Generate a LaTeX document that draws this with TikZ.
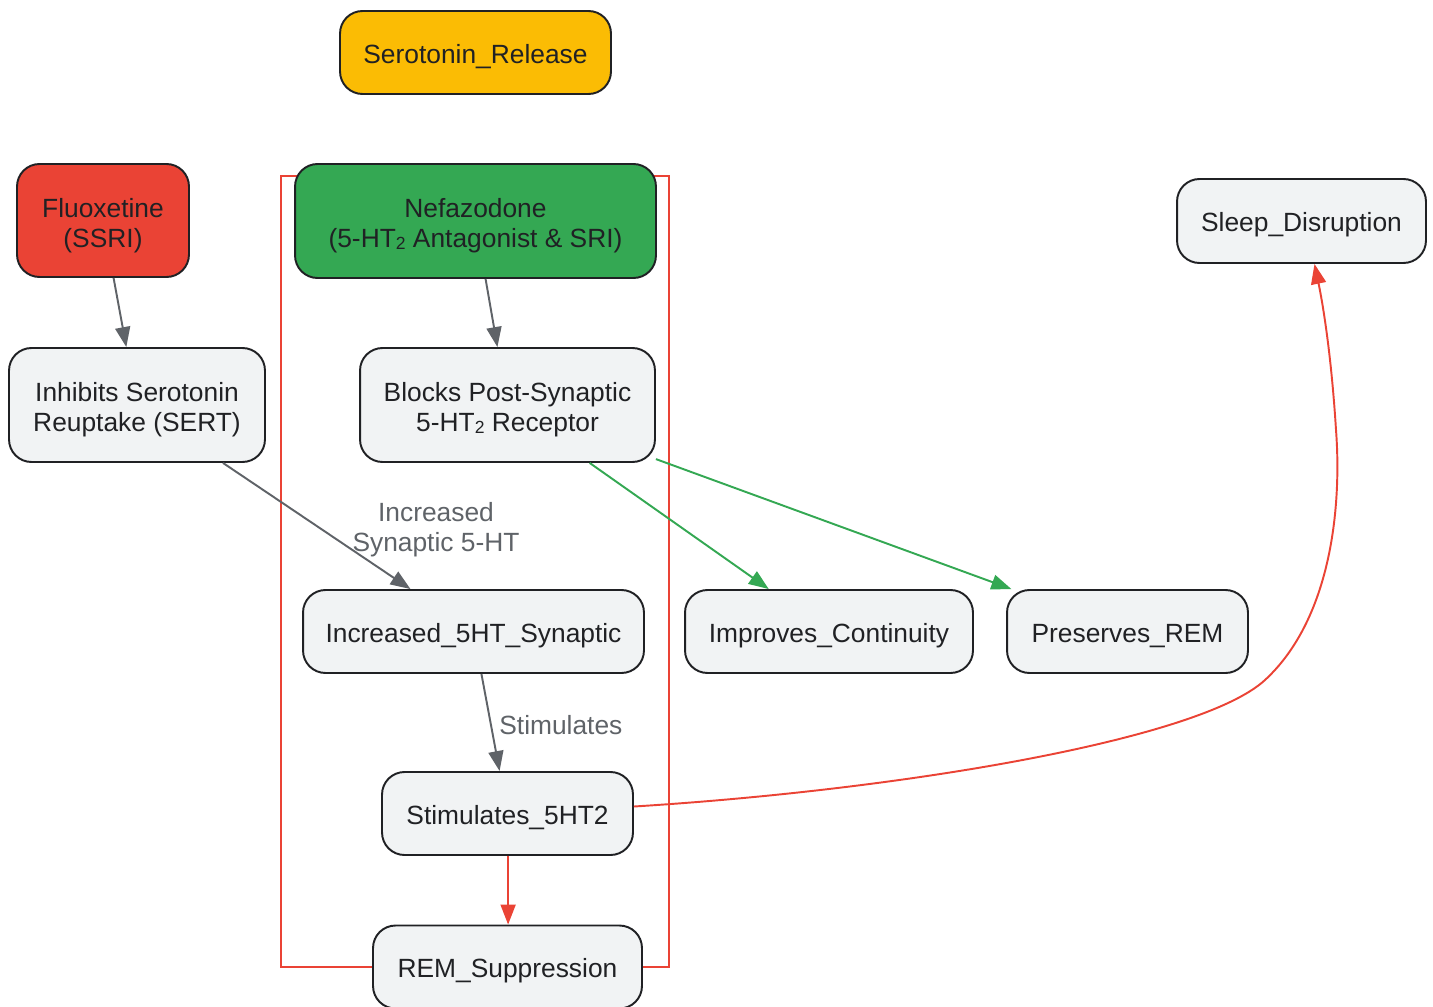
\documentclass[tikz,border=0pt]{standalone}
\usepackage{fontspec}
\setmainfont{Liberation Sans}
\usetikzlibrary{arrows.meta,calc}
\definecolor{gred}{HTML}{EA4335}
\definecolor{ggreen}{HTML}{34A853}
\definecolor{gyellow}{HTML}{FBBC04}
\definecolor{gfill}{HTML}{F1F3F4}
\definecolor{gdark}{HTML}{202124}
\definecolor{ggray}{HTML}{5F6368}
\newcommand{\subtwo}{\raisebox{-0.15ex}{\fontsize{10}{10}\selectfont 2}}
\newcommand{\mytopstrut}{\rule{0pt}{16.5pt}}
\tikzset{
  box/.style={draw=gdark, line width=1.1pt, fill=gfill, rounded corners=0.45cm,
    text=gdark, align=center, inner sep=0pt,
    font=\fontsize{15}{17}\selectfont, minimum height=1.66cm,
    execute at begin node={\rule{0pt}{15.6pt}}},
  grayarrow/.style={draw=ggray, line width=1.1pt, -{Triangle[length=0.4cm,width=0.3cm]}},
  redarrow/.style={draw=gred, line width=1.1pt, -{Triangle[length=0.4cm,width=0.3cm]}},
  greenarrow/.style={draw=ggreen, line width=1.1pt, -{Triangle[length=0.4cm,width=0.3cm]}},
  elabel/.style={text=ggray, align=center, font=\fontsize{15}{17}\selectfont, inner sep=0pt},
}
\begin{document}
\begin{tikzpicture}[x=0.02cm, y=-0.02cm]
\useasboundingbox (0,0) rectangle (1433,1007);
% group frame
\coordinate (fa) at (281,176);
\coordinate (fb) at (669,967);
\draw[gred, line width=1.1pt] (fa) rectangle (fb);
% nodes
\node[box, fill=gyellow, minimum width=5.42cm] (sr) at (475.5,52.5) {Serotonin\_Release};
\node[box, fill=gred, minimum width=3.44cm, minimum height=2.26cm] (fl) at (103,220.5) {\mytopstrut Fluoxetine\\(SSRI)};
\node[box, fill=ggreen, minimum width=7.22cm, minimum height=2.28cm] (nf) at (475.5,221) {\mytopstrut Nefazodone\\(5-HT\subtwo{} Antagonist \& SRI)};
\node[box, minimum width=4.98cm, minimum height=1.68cm] (sd) at (1301.5,221) {Sleep\_Disruption};
\node[box, minimum width=5.12cm, minimum height=2.28cm] (inh) at (137,405) {\mytopstrut Inhibits Serotonin\\Reuptake (SERT)};
\node[box, minimum width=5.90cm, minimum height=2.28cm] (bl) at (507.5,405) {\mytopstrut Blocks Post-Synaptic\\5-HT\subtwo{} Receptor};
\node[box, minimum width=6.82cm] (inc) at (473.5,631.5) {Increased\_5HT\_Synaptic};
\node[box, minimum width=5.76cm] (imp) at (829,631.5) {Improves\_Continuity};
\node[box, minimum width=4.82cm] (pr) at (1127.5,631.5) {Preserves\_REM};
\node[box, minimum width=5.02cm] (st) at (507.5,813.5) {Stimulates\_5HT2};
\node[box, minimum width=5.38cm] (rem) at (507.5,967) {REM\_Suppression};
% edges
\draw[grayarrow] (fl) -- (inh);
\draw[grayarrow] (nf) -- (bl);
\draw[grayarrow] (inh) -- (inc);
\draw[grayarrow] (inc) -- (st);
\draw[redarrow] ($(st.south)+(0.6,0)$) -- ($(rem.north)+(0.6,0)$);
\draw[greenarrow] (bl) -- (imp);
\draw[greenarrow] (bl) -- (pr);
\draw[redarrow] ($(st.east)+(0,-7)$) .. controls (900,790) and (1200,740) .. (1265,680)
  .. controls (1330,620) and (1342,510) .. (1336,430)
  .. controls (1331,350) and (1322,300) .. ($(sd.south)+(13,0)$);
% edge labels
\node[elabel] (l1) at (436,530) {Increased\\Synaptic 5-HT};
\node[elabel, anchor=west] (l2) at (499,725) {Stimulates};
\end{tikzpicture}
\end{document}
